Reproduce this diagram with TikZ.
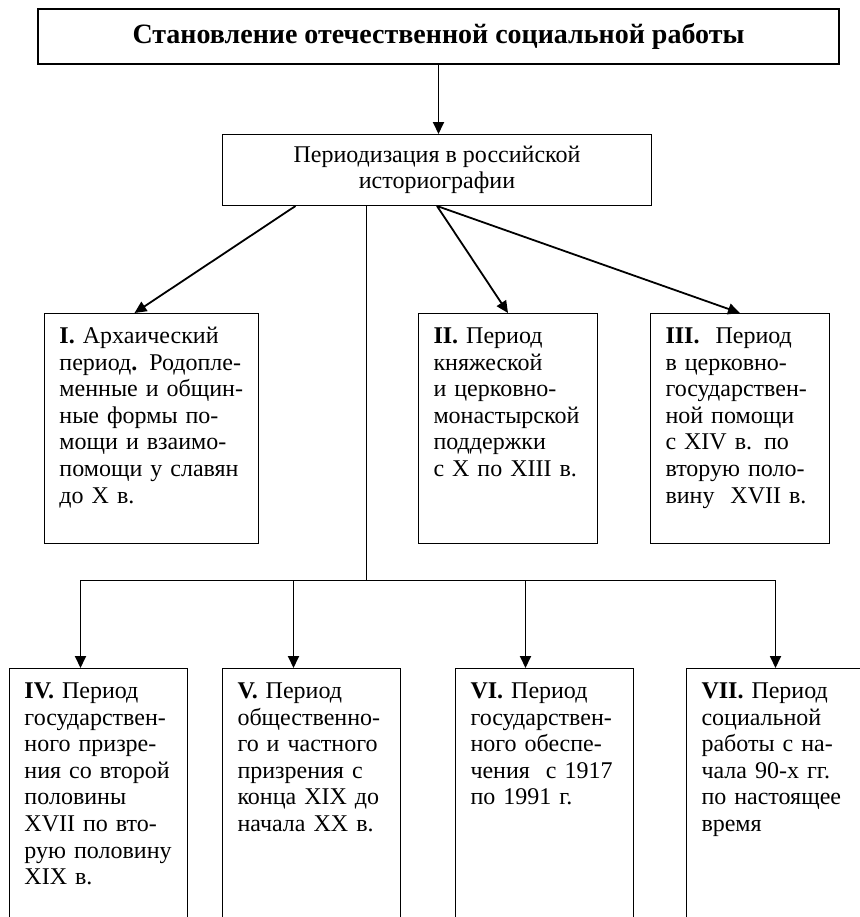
\documentclass[tikz,border=0pt]{standalone}
\usepackage{fontspec}
\setmainfont{Liberation Serif}
\usetikzlibrary{arrows.meta,positioning}

\begin{document}
\begin{tikzpicture}[x=0.5pt,y=-0.5pt,
	    textfont/.style={font=\fontsize{12}{13.3}\selectfont},
	    topblock/.style={draw, line width=1pt, anchor=north west,
	        minimum width=400.5pt, minimum height=27.5pt,
	        font=\fontsize{14}{16}\selectfont\bfseries},
	    midblock/.style={draw, line width=0.5pt, anchor=north west, textfont,
	        minimum width=214.5pt, minimum height=35.5pt, align=center},
	    period/.style={draw, line width=0.5pt, anchor=north west, textfont,
	        align=left, inner xsep=7.5pt, inner ysep=6pt, text height=9pt},
	    upper/.style={period, text depth=94pt},
	    lower/.style={period, text width=74pt, text depth=129pt},
	    arr/.style={line width=0.9pt, -{Triangle[length=6pt,width=5.5pt]}},
	    branch/.style={line width=0.5pt}]

		\useasboundingbox (0,0) rectangle (859,917);

		% Blocks
		\node [topblock] (title) at (37,8) {Становление отечественной социальной работы};
		\node [midblock] (hist) at (222,134) {Периодизация в российской\\историографии};

		\node [upper,text width=92pt] (p1) at (44,313)
		    {\textbf{I.} Архаический\\период\textbf{.} Родопле-\\менные и общин-\\ные формы по-\\мощи и взаимо-\\помощи у славян\\до X в.};
		\node [upper,text width=74.5pt] (p2) at (418,313)
		    {\textbf{II.} Период\\княжеской\\и церковно-\\монастырской\\поддержки\\с X по XIII в.};
		\node [upper,text width=74.5pt] (p3) at (650,313)
		    {\textbf{III.}\ \ Период\\в церковно-\\государствен-\\ной помощи\\с XIV в. по\\вторую поло-\\вину\ \ XVII в.};

		\node [lower] (p4) at (9,668)
		    {\textbf{IV.} Период\\государствен-\\ного призре-\\ния со второй\\половины\\XVII по вто-\\рую половину\\XIX в.};
		\node [lower] (p5) at (222,668)
		    {\textbf{V.} Период\\общественно-\\го и частного\\призрения с\\конца XIX до\\начала XX в.};
		\node [lower] (p6) at (455,668)
		    {\textbf{VI.} Период\\государствен-\\ного обеспе-\\чения\ \ с 1917\\по 1991 г.};
		\node [lower,text width=84pt] (p7) at (686,668)
		    {\textbf{VII.} Период\\социальной\\работы с на-\\чала 90-х гг.\\по настоящее\\время};

		% Arrows
		\draw[arr] (title.south) -- (title.south |- hist.north);
		\draw[arr] ([xshift=-70.75pt]hist.south) -- ([xshift=-8.5pt]p1.north);
		\draw[arr] (hist.south) -- (p2.north);
		\draw[arr] (hist.south) -- (p3.north);

		% Tree to the lower row
		\coordinate (fork) at (366,580);
		\coordinate (t4) at ([xshift=-9pt]p4.north);
		\coordinate (t5) at ([xshift=-9pt]p5.north);
		\coordinate (t6) at ([xshift=-9.5pt]p6.north);
		\coordinate (t7) at ([xshift=-5pt]p7.north);
		\draw[branch] (fork |- hist.south) -- (fork);
		\draw[branch] (t4 |- fork) -- (t7 |- fork);
		\foreach \t in {t4,t5,t6,t7}
		    \draw[arr] (\t |- fork) -- (\t);

	\end{tikzpicture}
\end{document}
